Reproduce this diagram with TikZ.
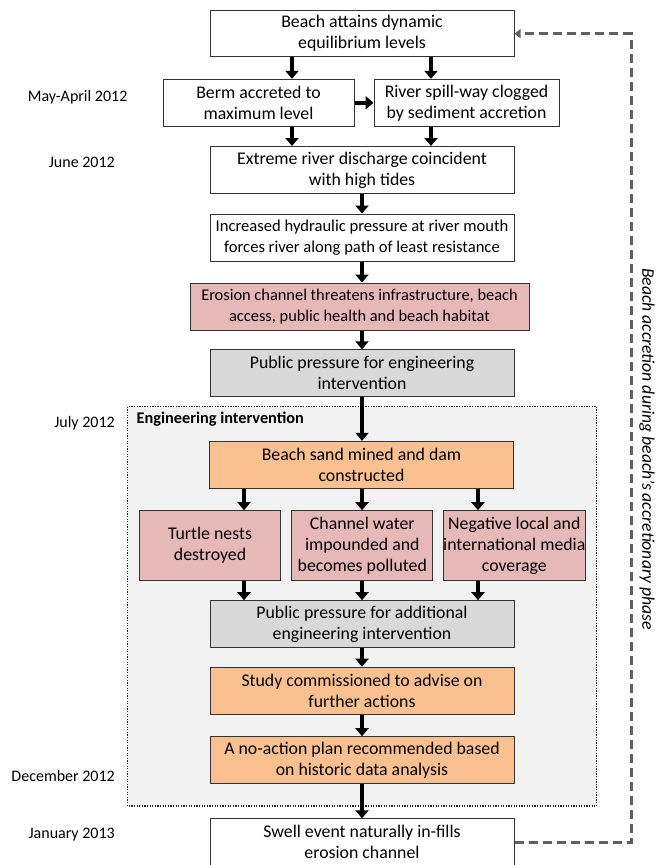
\documentclass[tikz,border=0pt]{standalone}
\usepackage{fontspec}
\setmainfont{Carlito}
\usepackage{tikz}
\usetikzlibrary{arrows.meta, positioning, backgrounds}

\definecolor{pinkfill}{HTML}{E6B8B7}
\definecolor{orangefill}{HTML}{FAC090}
\definecolor{greyfill}{HTML}{D9D9D9}
\definecolor{framefill}{HTML}{F2F2F2}
\definecolor{loopgrey}{HTML}{606060}

\begin{document}
\begin{tikzpicture}[
  x=1pt, y=-1pt,
  box/.style={draw=black!80, line width=1pt, fill=white, inner sep=0pt, align=center, minimum width=304pt, minimum height=47pt, font=\fontsize{17.8}{21}\selectfont},
  pinkbox/.style={box, fill=pinkfill},
  orangebox/.style={box, fill=orangefill},
  greybox/.style={box, fill=greyfill},
  smallbox/.style={pinkbox, minimum width=141pt, minimum height=70pt},
  arr/.style={line width=4pt, -{Triangle[length=8pt, width=13pt]}},
  backarr/.style={draw=loopgrey, line width=3pt, dash pattern=on 9pt off 5pt, -{Triangle[length=6pt, width=9pt]}},
  datelbl/.style={anchor=east, inner sep=0pt, font=\fontsize{16}{18}\selectfont},
  frame/.style={draw=black!85, line width=1.5pt, dash pattern=on 1.3pt off 1.3pt, fill=framefill}
]
\useasboundingbox (0,0) rectangle (666,865);

% Engineering intervention frame
\draw[frame] (127.7,406.7) rectangle (596.7,806);
\node[anchor=west, inner sep=0pt, font=\fontsize{16.3}{18}\selectfont\bfseries] (englbl) at (136.5,419) {Engineering intervention};

% Dates
\node[datelbl, anchor=west] (may) at (27.7,97) {May-April 2012};
\node[datelbl] (june) at (115,162)   {June 2012};
\node[datelbl] (july) at (115,423)   {July 2012};
\node[datelbl] (dec)  at (115,776)   {December 2012};
\node[datelbl] (jan)  at (115,835)   {January 2013};

% Boxes
\node[box] (beach) at (362,33.7) [minimum height=46pt] {Beach attains dynamic\\equilibrium levels};
\node[box, minimum width=191pt] (berm) at (258.5,102.8) {Berm accreted to\\maximum level};
\node[box, minimum width=185pt] (spill) at (466.5,102.8) {River spill-way clogged\\by sediment accretion};
\node[box] (discharge) at (362,170) {Extreme river discharge coincident\\with high tides};
\node[box, font=\fontsize{16.6}{21}\selectfont] (pressure) at (362,237.5) {Increased hydraulic pressure at river mouth\\forces river along path of least resistance};
\node[pinkbox, minimum width=339pt, font=\fontsize{16.4}{21}\selectfont] (erosion) at (359.5,306.5) {Erosion channel threatens infrastructure, beach\\access, public health and beach habitat};
\node[greybox] (public) at (362,373.3) {Public pressure for engineering\\intervention};
\node[orangebox] (dam) at (361.5,464.8) {Beach sand mined and dam\\constructed};
\node[smallbox] (turtle) at (210,545.7) {Turtle nests\\destroyed};
\node[smallbox] (water) at (362.3,545.7) {Channel water\\impounded and\\becomes polluted};
\node[smallbox] (media) at (514.3,545.7) {Negative local and\\international media\\coverage};
\node[greybox] (public2) at (362,624.2) {Public pressure for additional\\engineering intervention};
\node[orangebox] (study) at (362,690.7) {Study commissioned to advise on\\further actions};
\node[orangebox] (noaction) at (362,760.2) {A no-action plan recommended based\\on historic data analysis};
\node[box] (swell) at (362,842.3) {Swell event naturally in-fills\\erosion channel};

% Arrow columns
\coordinate (colA) at (292,0);
\coordinate (colB) at (431,0);
\coordinate (colL) at (244,0);
\coordinate (colM) at (362,0);
\coordinate (colR) at (478,0);
\coordinate (bend) at (631,0);

% Arrows
\draw[arr] (beach.south -| colA) -- (berm.north -| colA);
\draw[arr] (beach.south -| colB) -- (spill.north -| colB);
\draw[arr] (berm.east) -- (spill.west);
\draw[arr] (berm.south -| colA) -- (discharge.north -| colA);
\draw[arr] (spill.south -| colB) -- (discharge.north -| colB);
\draw[arr] (discharge.south) -- (pressure.north);
\draw[arr] (pressure.south) -- (erosion.north -| pressure.south);
\draw[arr] (erosion.south -| public.north) -- (public.north);
\draw[arr] (public.south) -- (dam.north -| public.south);
\draw[arr] (dam.south -| colL) -- (turtle.north -| colL);
\draw[arr] (dam.south -| colM) -- (water.north -| colM);
\draw[arr] (dam.south -| colR) -- (media.north -| colR);
\draw[arr] (turtle.south -| colL) -- (public2.north -| colL);
\draw[arr] (water.south -| colM) -- (public2.north -| colM);
\draw[arr] (media.south -| colR) -- (public2.north -| colR);
\draw[arr] (public2.south) -- (study.north);
\draw[arr] (study.south) -- (noaction.north);
\draw[arr] (noaction.south) -- (swell.north);

% Feedback loop
\draw[backarr] (swell.east) -- (swell.east -| bend) -- (beach.east -| bend) -- (beach.east);
\node[rotate=-90, font=\fontsize{17.7}{20}\selectfont\itshape] (phase) at (647,449) {Beach accretion during beach’s accretionary phase};

\end{tikzpicture}
\end{document}
